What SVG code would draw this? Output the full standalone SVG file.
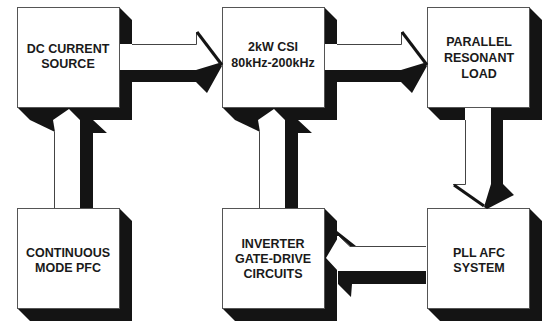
<svg xmlns="http://www.w3.org/2000/svg" width="545" height="321" viewBox="0 0 545 321">
<defs>
<style>
.face{fill:#fff;stroke:#555;stroke-width:1}
.sh{fill:#141414}
.wt{fill:#fff}
.edge{fill:none;stroke:#444;stroke-width:1}
.band{fill:none;stroke:#141414;stroke-width:3}
text{font-family:"Liberation Sans",Arial,sans-serif;font-weight:bold;font-size:12.5px;fill:#1a1a1a;text-anchor:middle}
</style>
</defs>
<rect width="545" height="321" fill="#fff"/>
<g id="dc-current-source">
<polygon class="sh" points="119,7 132,20 132,120 30,120 17,107"/>
<rect class="face" x="17.5" y="7.5" width="102" height="100"/>
<text x="68" y="53">DC CURRENT</text>
<text x="68" y="68">SOURCE</text>
</g>
<g id="csi">
<polygon class="sh" points="324,7 337,20 337,120 235,120 222,107"/>
<rect class="face" x="222.5" y="7.5" width="102" height="100"/>
<text x="273" y="51">2kW CSI</text>
<text x="273" y="67">80kHz-200kHz</text>
</g>
<g id="parallel-resonant-load">
<polygon class="sh" points="529,7 542,20 542,120 440,120 427,107"/>
<rect class="face" x="427.5" y="7.5" width="102" height="100"/>
<text x="479" y="46">PARALLEL</text>
<text x="479" y="62">RESONANT</text>
<text x="479" y="78">LOAD</text>
</g>
<g id="continuous-mode-pfc">
<polygon class="sh" points="119,208 132,221 132,321 30,321 17,308"/>
<rect class="face" x="17.5" y="208.5" width="102" height="100"/>
<text x="68" y="257">CONTINUOUS</text>
<text x="68" y="272">MODE PFC</text>
</g>
<g id="inverter-gate-drive">
<polygon class="sh" points="324,208 337,221 337,321 235,321 222,308"/>
<rect class="face" x="222.5" y="208.5" width="102" height="100"/>
<text x="273" y="248">INVERTER</text>
<text x="273" y="263">GATE-DRIVE</text>
<text x="273" y="278">CIRCUITS</text>
</g>
<g id="pll-afc-system">
<polygon class="sh" points="529,208 542,221 542,321 440,321 427,308"/>
<rect class="face" x="427.5" y="208.5" width="102" height="100"/>
<text x="479" y="257">PLL AFC</text>
<text x="479" y="272">SYSTEM</text>
</g>
<g id="connectors">
<!-- DC current source -> CSI -->
<g>
<polygon class="wt" points="120,44 196,44 196,32 219,63 196,70 120,70"/>
<path class="edge" d="M132,44.5H196.5V32"/>
<polygon class="sh" points="132,70 196,70 219,63 222,66 207,93 196,82 132,82"/>
<line class="band" x1="197" y1="32" x2="222" y2="65"/>
</g>
<!-- CSI -> parallel resonant load -->
<g>
<polygon class="wt" points="325,44 401,44 401,32 424,63 401,70 325,70"/>
<path class="edge" d="M337,44.5H401.5V32"/>
<polygon class="sh" points="337,70 401,70 424,63 427,66 412,93 401,82 337,82"/>
<line class="band" x1="402" y1="32" x2="427" y2="65"/>
</g>
<!-- parallel resonant load -> PLL AFC -->
<g>
<polygon class="wt" points="465,108 465,184 453,184 484,207 491,184 491,108"/>
<path class="edge" d="M465.5,120V184.5H453"/>
<polygon class="sh" points="491,120 491,184 484,207 487,209 514,195 503,184 503,120"/>
<line class="band" x1="454" y1="185" x2="484" y2="206"/>
</g>
<!-- PLL AFC -> inverter gate-drive -->
<g>
<polygon class="wt" points="426,246 350,246 339,236 326,258 338,271 426,271"/>
<path class="edge" d="M426,246.5H350L339,236"/>
<polygon class="sh" points="337,231 356,246 350,246 339,236 337,236"/>
<polygon class="sh" points="338,271 426,271 426,284 352,284 351,297 338,284"/>
</g>
<!-- continuous mode PFC -> DC current source -->
<g>
<polygon class="wt" points="54,207.5 54,132 53,120 69,109 80,120 80,207.5"/>
<path class="edge" d="M54.5,132V208"/>
<polygon class="sh" points="30,120 53,120 55,132"/>
<polygon class="sh" points="80,120 93,120 107,133 93,133 93,208 80,208"/>
</g>
<!-- inverter gate-drive -> CSI -->
<g>
<polygon class="wt" points="259,207.5 259,132 258,120 274,109 285,120 285,207.5"/>
<path class="edge" d="M259.5,132V208"/>
<polygon class="sh" points="235,120 258,120 260,132"/>
<polygon class="sh" points="285,120 298,120 312,133 298,133 298,208 285,208"/>
</g>
</g>
</svg>
